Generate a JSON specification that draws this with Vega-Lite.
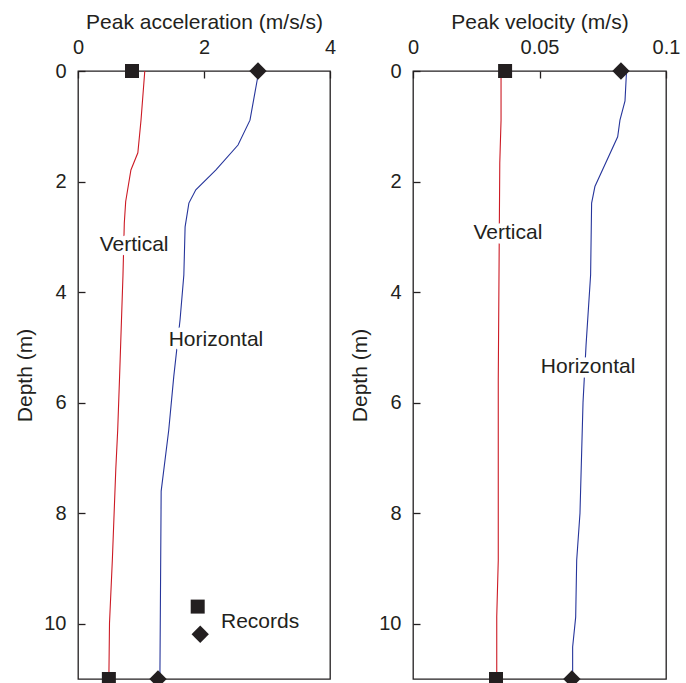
{
  "$schema": "https://vega.github.io/schema/vega-lite/v6.json",
  "background": "white",
  "padding": {"left": 14, "top": 10, "right": 5, "bottom": 0},
  "spacing": 12,
  "config": {
    "font": "Liberation Sans",
    "view": {"stroke": "#231f20", "strokeWidth": 1.3},
    "axis": {
      "domain": false,
      "grid": false,
      "ticks": true,
      "tickColor": "#231f20",
      "tickWidth": 1.3,
      "tickSize": -7,
      "labelFontSize": 20,
      "labelColor": "#231f20",
      "labelFlush": false,
      "titleFontSize": 21,
      "titleFontWeight": "normal",
      "titleColor": "#231f20"
    },
    "axisX": {"labelPadding": 21, "titlePadding": 5},
    "axisY": {"labelPadding": 19, "titlePadding": 8}
  },
  "datasets": {
    "acc": [
      {"series": "Vertical", "depth": 0, "v": 1.06},
      {"series": "Vertical", "depth": 0.89, "v": 1.0},
      {"series": "Vertical", "depth": 1.48, "v": 0.95},
      {"series": "Vertical", "depth": 1.79, "v": 0.84},
      {"series": "Vertical", "depth": 2.36, "v": 0.757},
      {"series": "Vertical", "depth": 2.75, "v": 0.735},
      {"series": "Vertical", "depth": 3.69, "v": 0.714},
      {"series": "Vertical", "depth": 5.53, "v": 0.66},
      {"series": "Vertical", "depth": 6.5, "v": 0.63},
      {"series": "Vertical", "depth": 7.2, "v": 0.6},
      {"series": "Vertical", "depth": 8.85, "v": 0.545},
      {"series": "Vertical", "depth": 9.99, "v": 0.5},
      {"series": "Vertical", "depth": 11, "v": 0.49},
      {"series": "Horizontal", "depth": 0, "v": 2.87},
      {"series": "Horizontal", "depth": 0.89, "v": 2.73},
      {"series": "Horizontal", "depth": 1.34, "v": 2.54},
      {"series": "Horizontal", "depth": 1.79, "v": 2.19},
      {"series": "Horizontal", "depth": 2.15, "v": 1.87},
      {"series": "Horizontal", "depth": 2.39, "v": 1.76},
      {"series": "Horizontal", "depth": 2.82, "v": 1.7},
      {"series": "Horizontal", "depth": 3.69, "v": 1.68},
      {"series": "Horizontal", "depth": 4.5, "v": 1.62},
      {"series": "Horizontal", "depth": 5.53, "v": 1.52},
      {"series": "Horizontal", "depth": 6.5, "v": 1.44},
      {"series": "Horizontal", "depth": 7.6, "v": 1.32},
      {"series": "Horizontal", "depth": 11, "v": 1.3}
    ],
    "accRec": [
      {"m": "sq", "depth": 0, "v": 0.857},
      {"m": "di", "depth": 0, "v": 2.857},
      {"m": "sq", "depth": 11, "v": 0.49},
      {"m": "di", "depth": 11, "v": 1.27},
      {"m": "sq", "depth": 9.69, "v": 1.9},
      {"m": "di", "depth": 10.19, "v": 1.94}
    ],
    "accLab": [
      {"label": "Vertical", "depth": 3.15, "v": 0.89},
      {"label": "Horizontal", "depth": 4.87, "v": 2.19}
    ],
    "accLeg": [
      {"label": "Records", "depth": 9.97, "v": 2.27}
    ],
    "vel": [
      {"series": "Vertical", "depth": 0, "v": 0.0348},
      {"series": "Vertical", "depth": 0.89, "v": 0.0348},
      {"series": "Vertical", "depth": 1.66, "v": 0.0343},
      {"series": "Vertical", "depth": 5.6, "v": 0.0337},
      {"series": "Vertical", "depth": 8.85, "v": 0.0337},
      {"series": "Vertical", "depth": 9.88, "v": 0.0331},
      {"series": "Vertical", "depth": 11, "v": 0.0331},
      {"series": "Horizontal", "depth": 0, "v": 0.0844},
      {"series": "Horizontal", "depth": 0.54, "v": 0.0838},
      {"series": "Horizontal", "depth": 0.89, "v": 0.0818},
      {"series": "Horizontal", "depth": 1.19, "v": 0.0809},
      {"series": "Horizontal", "depth": 2.09, "v": 0.0719},
      {"series": "Horizontal", "depth": 2.39, "v": 0.0706},
      {"series": "Horizontal", "depth": 3.69, "v": 0.0702},
      {"series": "Horizontal", "depth": 4.96, "v": 0.0684},
      {"series": "Horizontal", "depth": 6.0, "v": 0.0672},
      {"series": "Horizontal", "depth": 8.0, "v": 0.066},
      {"series": "Horizontal", "depth": 8.85, "v": 0.0647},
      {"series": "Horizontal", "depth": 9.88, "v": 0.0643},
      {"series": "Horizontal", "depth": 10.42, "v": 0.0631},
      {"series": "Horizontal", "depth": 11, "v": 0.0631}
    ],
    "velRec": [
      {"m": "sq", "depth": 0, "v": 0.0364},
      {"m": "di", "depth": 0, "v": 0.0822},
      {"m": "sq", "depth": 11, "v": 0.0328},
      {"m": "di", "depth": 11, "v": 0.0628}
    ],
    "velLab": [
      {"label": "Vertical", "depth": 2.93, "v": 0.0375},
      {"label": "Horizontal", "depth": 5.36, "v": 0.0692}
    ]
  },
  "hconcat": [
    {
      "width": 252,
      "height": 608,
      "encoding": {
        "x": {"field": "v", "type": "quantitative", "scale": {"domain": [0, 4], "nice": false, "zero": false}, "axis": {"orient": "top", "values": [0, 2, 4], "title": "Peak acceleration (m/s/s)"}},
        "y": {"field": "depth", "type": "quantitative", "scale": {"domain": [0, 11], "reverse": true, "nice": false, "zero": false}, "axis": {"values": [0, 2, 4, 6, 8, 10], "title": "Depth (m)"}}
      },
      "layer": [
        {
          "data": {"name": "acc"},
          "mark": {"type": "line", "strokeWidth": 1.1},
          "encoding": {
            "color": {"field": "series", "type": "nominal", "scale": {"domain": ["Vertical", "Horizontal"], "range": ["#cc1a24", "#26359b"]}, "legend": null},
            "order": {"field": "depth", "type": "quantitative"}
          }
        },
        {
          "data": {"name": "accLab"},
          "mark": {"type": "text", "fontSize": 21, "stroke": "white", "strokeWidth": 9, "fill": "white", "strokeJoin": "round"},
          "encoding": {"text": {"field": "label"}}
        },
        {
          "data": {"name": "accLab"},
          "mark": {"type": "text", "fontSize": 21, "color": "#231f20"},
          "encoding": {"text": {"field": "label"}}
        },
        {
          "data": {"name": "accLeg"},
          "mark": {"type": "text", "fontSize": 21, "color": "#231f20", "align": "left"},
          "encoding": {"text": {"field": "label"}}
        },
        {
          "data": {"name": "accRec"},
          "mark": {"type": "point", "filled": true, "color": "#231f20", "opacity": 1},
          "encoding": {
            "shape": {"field": "m", "type": "nominal", "scale": {"domain": ["sq", "di"], "range": ["square", "diamond"]}, "legend": null},
            "size": {"field": "m", "type": "ordinal", "scale": {"domain": ["sq", "di"], "range": [196, 300]}, "legend": null}
          }
        }
      ]
    },
    {
      "width": 253,
      "height": 608,
      "encoding": {
        "x": {"field": "v", "type": "quantitative", "scale": {"domain": [0, 0.1], "nice": false, "zero": false}, "axis": {"orient": "top", "values": [0, 0.05, 0.1], "format": ".2~f", "title": "Peak velocity (m/s)"}},
        "y": {"field": "depth", "type": "quantitative", "scale": {"domain": [0, 11], "reverse": true, "nice": false, "zero": false}, "axis": {"values": [0, 2, 4, 6, 8, 10], "title": "Depth (m)"}}
      },
      "layer": [
        {
          "data": {"name": "vel"},
          "mark": {"type": "line", "strokeWidth": 1.1},
          "encoding": {
            "color": {"field": "series", "type": "nominal", "scale": {"domain": ["Vertical", "Horizontal"], "range": ["#cc1a24", "#26359b"]}, "legend": null},
            "order": {"field": "depth", "type": "quantitative"}
          }
        },
        {
          "data": {"name": "velLab"},
          "mark": {"type": "text", "fontSize": 21, "stroke": "white", "strokeWidth": 9, "fill": "white", "strokeJoin": "round"},
          "encoding": {"text": {"field": "label"}}
        },
        {
          "data": {"name": "velLab"},
          "mark": {"type": "text", "fontSize": 21, "color": "#231f20"},
          "encoding": {"text": {"field": "label"}}
        },
        {
          "data": {"name": "velRec"},
          "mark": {"type": "point", "filled": true, "color": "#231f20", "opacity": 1},
          "encoding": {
            "shape": {"field": "m", "type": "nominal", "scale": {"domain": ["sq", "di"], "range": ["square", "diamond"]}, "legend": null},
            "size": {"field": "m", "type": "ordinal", "scale": {"domain": ["sq", "di"], "range": [196, 300]}, "legend": null}
          }
        }
      ]
    }
  ]
}
